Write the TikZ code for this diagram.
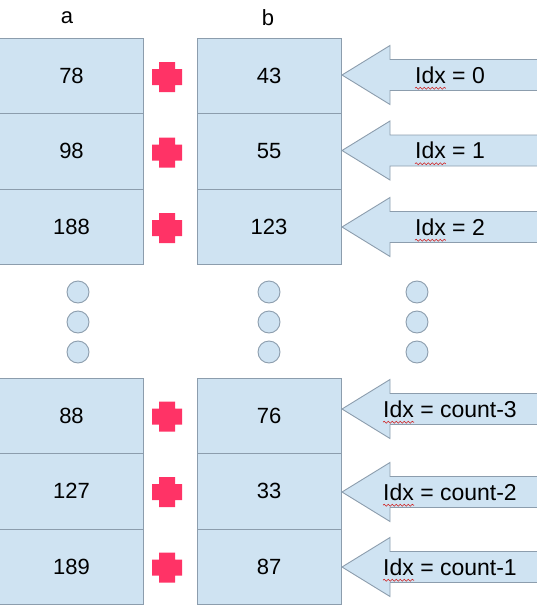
\documentclass[tikz,border=0pt]{standalone}
\usepackage{fontspec}
\setmainfont{Liberation Sans}
\usetikzlibrary{calc,decorations.pathmorphing}
\definecolor{cellfill}{HTML}{CFE3F2}
\definecolor{celldraw}{HTML}{8C9DAD}
\definecolor{plusred}{HTML}{FF3366}
\definecolor{waveRed}{HTML}{D02020}
\tikzset{
  cell/.style={draw=celldraw, fill=cellfill, line width=0.9pt, minimum width=144pt, minimum height=75.5pt, inner sep=0pt, font=\fontsize{22}{24}\selectfont},
  arrowshape/.style={draw=celldraw, fill=cellfill, line width=0.9pt, line join=miter},
  idxlabel/.style={inner sep=0pt, font=\fontsize{23}{25}\selectfont},
  collabel/.style={inner sep=0pt, font=\fontsize{22}{24}\selectfont},
  dotc/.style={circle, draw=celldraw, fill=cellfill, line width=0.9pt, minimum size=22pt, inner sep=0pt},
  wavy/.style={draw=waveRed, line width=0.6pt, decorate, decoration={snake, amplitude=1pt, segment length=4pt}},
  plus/.pic={\fill[plusred] (-8,-15) -- (8,-15) -- (8,-8) -- (15,-8) -- (15,8) -- (8,8) -- (8,15) -- (-8,15) -- (-8,8) -- (-15,8) -- (-15,-8) -- (-8,-8) -- cycle;}
}
\begin{document}
\begin{tikzpicture}[x=1pt,y=-1pt]
\useasboundingbox (0,0) rectangle (537,605);
% column labels
\node[collabel] (la) at (67,18) {a};
\node[collabel] (lb) at (268,18) {b};
% column a, top
\node[cell] (a1) at (71.5,75.75) {78};
\node[cell] (a2) at (71.5,151.25) {98};
\node[cell] (a3) at (71.5,226.75) {188};
% column b, top
\node[cell] (b1) at (269,75.75) {43};
\node[cell] (b2) at (269,151.25) {55};
\node[cell] (b3) at (269,226.75) {123};
% column a, bottom
\node[cell] (a4) at (71.5,415.75) {88};
\node[cell] (a5) at (71.5,491.25) {127};
\node[cell] (a6) at (71.5,566.75) {189};
% column b, bottom
\node[cell] (b4) at (269,415.75) {76};
\node[cell] (b5) at (269,491.25) {33};
\node[cell] (b6) at (269,566.75) {87};
% plus signs
\pic at (167,77) {plus};
\pic at (167,152.5) {plus};
\pic at (167,228) {plus};
\pic at (167,416.5) {plus};
\pic at (167,492) {plus};
\pic at (167,567.5) {plus};
% dots
\foreach \x/\n in {78/da,269/db,417/dc}{
  \node[dotc] (\n1) at (\x,292) {};
  \node[dotc] (\n2) at (\x,322) {};
  \node[dotc] (\n3) at (\x,352) {};
}
% arrows
\foreach \i/\y in {1/75,2/150.5,3/227,4/409,5/492,6/567}{
  \coordinate (t\i) at (342,\y);
  \draw[arrowshape] (t\i) -- ++(48,-29.5) -- ++(0,14) -- ++(160,0) -- ++(0,31) -- ++(-160,0) -- ++(0,14) -- cycle;
}
\node[idxlabel] (l1) at (450,75) {Idx = 0};
\node[idxlabel] (l2) at (450,150.5) {Idx = 1};
\node[idxlabel] (l3) at (450,227) {Idx = 2};
\node[idxlabel] (l4) at (450,409) {Idx = count-3};
\node[idxlabel] (l5) at (450,492) {Idx = count-2};
\node[idxlabel] (l6) at (450,567) {Idx = count-1};
\foreach \i in {1,...,6}{
  \draw[wavy] ($(l\i.base west)+(0,5)$) -- ++(31,0);
}
\end{tikzpicture}
\end{document}
